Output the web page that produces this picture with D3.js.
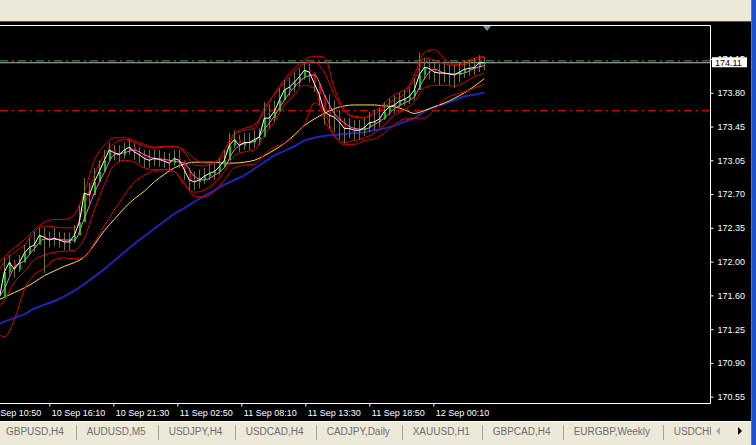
<!DOCTYPE html>
<html><head><meta charset="utf-8">
<script src="https://cdn.jsdelivr.net/npm/d3@7"></script>
<style>html,body{margin:0;padding:0;background:#ECE9D8;overflow:hidden}svg{display:block}text{font-family:"Liberation Sans",Arial,sans-serif}</style>
</head><body><svg id="c" width="756" height="445"></svg>
<script>
// ---------- DATA ----------
// 25-minute bars starting 10 Sep 12:00 (UTC)
const barStart = Date.UTC(2014, 8, 10, 12, 0);
const barStepMin = 25;
const closes = [171.60,171.88,171.98,171.91,171.98,172.08,172.14,172.17,172.27,172.25,
172.22,172.24,172.22,172.20,172.20,172.27,172.41,172.72,172.70,172.84,
172.95,173.07,173.18,173.15,173.13,173.18,173.21,173.16,173.13,173.09,
173.07,173.09,173.08,173.06,173.04,173.09,173.07,172.97,172.86,172.84,
172.86,172.90,172.93,172.95,173.00,173.07,173.23,173.29,173.23,173.26,
173.26,173.29,173.32,173.52,173.52,173.59,173.71,173.82,173.85,173.90,
173.96,174.03,174.01,173.89,173.77,173.59,173.55,173.53,173.48,173.41,
173.41,173.39,173.39,173.42,173.47,173.48,173.51,173.59,173.64,173.66,
173.70,173.72,173.75,173.82,173.98,174.06,174.05,174.01,174.00,174.00,
173.99,173.98,174.01,174.04,174.05,174.06,174.11,174.11];
const highs = [171.74,172.03,172.06,172.01,172.06,172.17,172.24,172.31,172.35,172.35,
172.31,172.35,172.31,172.30,172.30,172.38,172.59,172.88,172.83,172.99,
173.07,173.18,173.26,173.23,173.23,173.26,173.29,173.25,173.21,173.18,
173.18,173.18,173.18,173.16,173.15,173.18,173.18,173.07,172.99,172.95,
172.97,172.99,173.03,173.04,173.09,173.18,173.36,173.39,173.34,173.36,
173.36,173.39,173.41,173.69,173.66,173.71,173.84,173.93,173.95,174.01,
174.05,174.10,174.10,174.01,173.87,173.71,173.77,173.71,173.61,173.52,
173.52,173.50,173.50,173.52,173.59,173.61,173.63,173.69,173.73,173.76,
173.79,173.82,173.85,173.95,174.22,174.16,174.14,174.11,174.10,174.10,
174.09,174.08,174.11,174.14,174.14,174.16,174.19,174.17];
const lows = [171.53,171.69,171.85,171.82,171.88,171.99,172.06,172.09,172.20,171.87,
172.14,172.16,172.14,172.11,172.11,172.19,172.31,172.59,172.61,172.73,
172.86,172.99,173.09,173.07,173.05,173.09,173.13,173.07,173.04,172.99,
172.99,173.01,173.00,172.99,172.95,173.01,172.99,172.86,172.75,172.75,
172.77,172.82,172.86,172.86,172.91,172.99,173.13,173.20,173.16,173.18,
173.18,173.20,173.23,173.39,173.41,173.48,173.61,173.71,173.75,173.80,
173.85,173.93,173.90,173.80,173.66,173.45,173.41,173.37,173.29,173.25,
173.31,173.29,173.29,173.33,173.37,173.39,173.42,173.50,173.55,173.57,
173.63,173.65,173.67,173.71,173.84,173.93,173.93,173.90,173.87,173.90,
173.87,173.84,173.90,173.95,173.97,173.98,174.01,174.03];

// indicators sampled every 50 minutes starting 10 Sep 11:35
const indStart = Date.UTC(2014, 8, 10, 11, 35);
const indStepMin = 50;
const maYellow = [171.56,171.61,171.66,171.71,171.77,171.84,171.89,171.94,171.98,172.04,
172.17,172.32,172.44,172.56,172.66,172.74,172.84,172.92,172.99,173.03,
173.05,173.05,173.05,173.04,173.04,173.05,173.07,173.12,173.18,173.25,
173.34,173.44,173.51,173.57,173.62,173.65,173.66,173.66,173.66,173.65,
173.64,173.61,173.57,173.60,173.64,173.68,173.73,173.79,173.86,173.94];
const maBlue = [171.29,171.35,171.39,171.43,171.49,171.53,171.57,171.62,171.68,171.75,
171.83,171.91,172.00,172.09,172.18,172.26,172.34,172.42,172.50,172.56,
172.63,172.69,172.75,172.81,172.86,172.91,172.98,173.05,173.12,173.17,
173.22,173.28,173.31,173.33,173.34,173.35,173.36,173.37,173.39,173.41,
173.44,173.48,173.52,173.59,173.64,173.67,173.71,173.75,173.77,173.79];
const maPink = [171.55,171.70,171.93,172.00,172.13,172.23,172.23,172.22,172.22,172.45,
172.72,172.94,173.13,173.15,173.18,173.13,173.09,173.08,173.06,173.04,
172.90,172.86,172.91,172.99,173.18,173.25,173.27,173.40,173.54,173.71,
173.85,173.95,173.98,173.77,173.57,173.47,173.41,173.40,173.45,173.52,
173.62,173.68,173.75,173.94,174.04,174.00,173.99,174.00,174.05,174.08];
const bandUpper = [171.92,172.04,172.14,172.22,172.33,172.41,172.44,172.44,172.49,172.73,
173.07,173.23,173.31,173.31,173.28,173.24,173.21,173.22,173.22,173.18,
173.09,173.04,173.04,173.18,173.36,173.41,173.45,173.59,173.78,173.93,
174.05,174.14,174.18,174.17,173.84,173.61,173.54,173.53,173.56,173.64,
173.72,173.78,173.98,174.22,174.25,174.16,174.09,174.09,174.14,174.17];
const bandLower = [171.26,171.19,171.37,171.69,171.85,171.92,172.01,172.03,172.02,172.04,
172.19,172.37,172.54,172.70,172.84,172.91,172.96,172.97,172.95,172.83,
172.69,172.68,172.74,172.86,172.99,173.02,173.03,173.13,173.21,173.25,
173.33,173.45,173.68,173.59,173.33,173.24,173.24,173.28,173.30,173.36,
173.45,173.51,173.52,173.52,173.61,173.72,173.77,173.80,173.84,173.88];
const innerUpper = [171.79,171.99,172.09,172.17,172.31,172.37,172.36,172.35,172.35,172.59,
172.91,173.13,173.25,173.29,173.26,173.22,173.20,173.21,173.22,173.16,
173.02,173.01,173.05,173.13,173.34,173.39,173.41,173.63,173.77,173.90,
174.01,174.10,174.12,174.01,173.77,173.59,173.53,173.52,173.59,173.68,
173.77,173.82,173.93,174.16,174.14,174.10,174.08,174.12,174.16,174.18];
const innerLower = [171.45,171.58,171.77,171.88,172.01,172.06,172.09,172.10,172.11,172.24,
172.54,172.81,173.02,173.07,173.05,172.99,172.97,172.97,172.95,172.81,
172.73,172.75,172.83,172.95,173.12,173.16,173.18,173.34,173.48,173.66,
173.77,173.87,173.84,173.50,173.34,173.26,173.28,173.31,173.36,173.45,
173.55,173.61,173.69,173.84,173.87,173.87,173.86,173.90,173.96,174.00];

const priceTicks = [170.55,170.91,171.27,171.63,171.99,172.35,172.71,173.07,173.43,173.79,174.15];
const priceLabels = ["170.55","170.90","171.25","171.60","172.00","172.35","172.70","173.05","173.45","173.80","174.15"];
const timeTickStart = Date.UTC(2014, 8, 10, 10, 50);
const timeTickStepMin = 320;
const timeTickCount = 8;
const bidPrice = 174.11, askPrice = 174.13, levelPrice = 173.60;
const tabNames = ["GBPUSD,H4","AUDUSD,M5","USDJPY,H4","USDCAD,H4","CADJPY,Daily","XAUUSD,H1","GBPCAD,H4","EURGBP,Weekly","USDCHF,Daily"];

// ---------- LAYOUT ----------
const W = 756, H = 445;
const plotR = 710.5, plotT = 25.5, plotB = 403.5;
const MIN = 60000;
const svg = d3.select("#c");

const refTime = Date.UTC(2014, 8, 10, 16, 10), refX = 49.3, pxPerMin = 1/5;
const x = d3.scaleUtc()
  .domain([new Date(refTime - refX/pxPerMin*MIN), new Date(refTime + (plotR-refX)/pxPerMin*MIN)])
  .range([0, plotR]);
const y = d3.scaleLinear().domain([170.55, 174.15]).range([396.7, 59.0]);

const bars = closes.map((c,i)=>({t:new Date(barStart + i*barStepMin*MIN), o: i?closes[i-1]:c, h:highs[i], l:lows[i], c}));
const ind = (arr)=>arr.map((v,j)=>({t:new Date(indStart + j*indStepMin*MIN), v}));

// window chrome
svg.append("rect").attr("width",W).attr("height",H).attr("fill","#ECE9D8");
svg.append("rect").attr("x",0).attr("y",21).attr("width",W).attr("height",400).attr("fill","#000");
svg.append("line").attr("x1",0).attr("x2",W).attr("y1",21.5).attr("y2",21.5).attr("stroke","#5a5850");
svg.append("rect").attr("x",0).attr("y",421).attr("width",W).attr("height",24).attr("fill","#ECE9D8");
svg.append("line").attr("x1",0).attr("x2",W).attr("y1",421.5).attr("y2",421.5).attr("stroke","#fff");
svg.append("rect").attr("x",751).attr("y",0).attr("width",5).attr("height",H).attr("fill","#1f4fd8");
svg.append("rect").attr("x",751).attr("y",0).attr("width",1).attr("height",H).attr("fill","#4a74e6");

svg.append("clipPath").attr("id","cp").append("rect").attr("x",0).attr("y",plotT).attr("width",plotR).attr("height",plotB-plotT);
const g = svg.append("g").attr("clip-path","url(#cp)");

// horizontal levels
g.append("line").attr("x1",0).attr("x2",plotR).attr("y1",y(levelPrice)).attr("y2",y(levelPrice))
  .attr("stroke","#e00000").attr("stroke-dasharray","8,4,2,4");
g.append("line").attr("x1",0).attr("x2",plotR).attr("y1",y(askPrice)).attr("y2",y(askPrice))
  .attr("stroke","#4f9f4f").attr("stroke-dasharray","8,4,2,4");
g.append("line").attr("x1",0).attr("x2",plotR).attr("y1",y(bidPrice)).attr("y2",y(bidPrice))
  .attr("stroke","#b8b8b8");

const lineGen = d3.line().x(d=>x(d.t)).y(d=>y(d.v)).curve(d3.curveMonotoneX);
const drawInd = (arr, color, w)=>g.append("path").datum(ind(arr)).attr("d",lineGen)
  .attr("fill","none").attr("stroke",color).attr("stroke-width",w);
drawInd(maBlue, "#2222b4", 2);
drawInd(maYellow, "#ffe040", 1);
[bandUpper,bandLower,innerUpper,innerLower].forEach(b=>drawInd(b, "#e00000", 1));

// candles
const cg = g.append("g");
cg.selectAll("line.w").data(bars).join("line").attr("class","w")
  .attr("x1",d=>Math.round(x(d.t))+0.5).attr("x2",d=>Math.round(x(d.t))+0.5)
  .attr("y1",d=>y(d.h)).attr("y2",d=>y(d.l)).attr("stroke","#77762f");
cg.selectAll("rect").data(bars).join("rect")
  .attr("x",d=>Math.round(x(d.t))).attr("width",2)
  .attr("y",d=>y(Math.max(d.o,d.c))).attr("height",d=>Math.max(1,Math.abs(y(d.o)-y(d.c))))
  .attr("fill",d=>d.c>=d.o?"#00c800":"#c00000");
drawInd(maPink, "#ff70d0", 1);
g.append("path").datum(bars).attr("d",d3.line().x(d=>x(d.t)).y(d=>y(d.c))).attr("fill","none").attr("stroke","#fff");

// frame
svg.append("path").attr("d",`M0,${plotT}H${plotR}V${plotB}H0`).attr("fill","none").attr("stroke","#fff");

// price axis
const ya = svg.append("g").attr("transform",`translate(${plotR},0)`)
  .call(d3.axisRight(y).tickValues(priceTicks).tickFormat((d,i)=>priceLabels[i]).tickSize(3).tickPadding(4));
ya.select(".domain").remove();
ya.selectAll("line").attr("stroke","#fff");
ya.selectAll("text").attr("fill","#fff").attr("font-size",9).attr("font-family","Liberation Sans, Arial, sans-serif");
svg.append("rect").attr("x",712).attr("y",y(bidPrice)-5.5).attr("width",35).attr("height",10).attr("fill","#fff");
svg.append("text").attr("x",715).attr("y",y(bidPrice)).attr("dy","0.35em").attr("font-size",9).attr("fill","#000").text(bidPrice.toFixed(2));

// time axis
const timeTicks = d3.range(timeTickCount).map(k=>new Date(timeTickStart + k*timeTickStepMin*MIN));
const xa = svg.append("g").attr("transform",`translate(0,${plotB})`)
  .call(d3.axisBottom(x).tickValues(timeTicks).tickFormat(d3.utcFormat("%-d %b %H:%M")).tickSize(3).tickPadding(3));
xa.select(".domain").remove();
xa.selectAll("line").attr("stroke","#fff");
xa.selectAll("text").attr("fill","#fff").attr("font-size",9).attr("text-anchor","start").attr("x",2)
  .attr("font-family","Liberation Sans, Arial, sans-serif");

svg.append("path").attr("d","M483,26H491L487,31Z").attr("fill","#8090a8");

// tabs
svg.append("clipPath").attr("id","tc").append("rect").attr("x",0).attr("y",421).attr("width",711).attr("height",24);
const tg = svg.append("g").attr("clip-path","url(#tc)");
let tx = 6;
tabNames.forEach((name,i)=>{
  const t = tg.append("text").attr("x",tx).attr("y",435).attr("font-size",10).attr("fill","#6e6e6e").text(name);
  const w = t.node().getComputedTextLength();
  const sx = Math.round(tx + w + 12.5) + 0.5;
  if (i < tabNames.length-1) tg.append("line").attr("x1",sx).attr("x2",sx).attr("y1",425).attr("y2",440).attr("stroke","#a6a393");
  tx = sx + 10.2;
});
svg.append("path").attr("d","M720,427L716,431L720,435Z").attr("fill","#b0ad9e");
svg.append("path").attr("d","M738,427L742,431L738,435Z").attr("fill","#000");
</script></body></html>
